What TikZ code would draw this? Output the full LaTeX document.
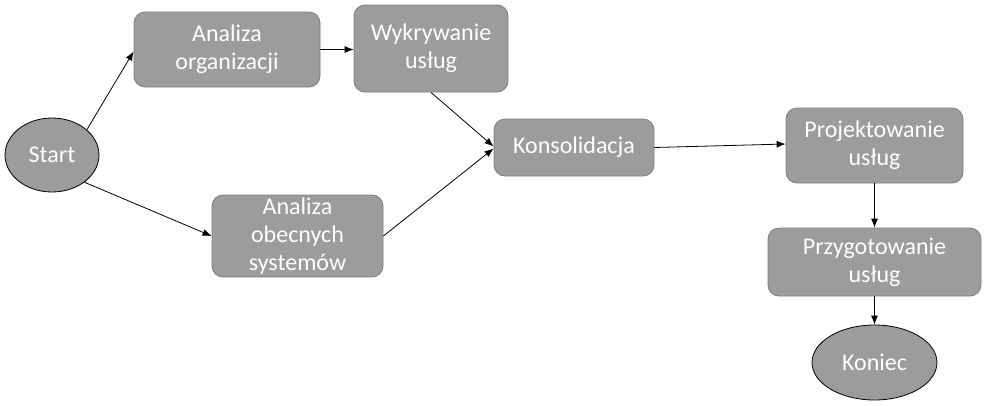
\documentclass[tikz,border=0pt]{standalone}
\usepackage{fontspec}
\setmainfont{Carlito}
\usetikzlibrary{shapes.geometric,arrows.meta}
\definecolor{boxfill}{RGB}{156,156,156}
\definecolor{boxline}{RGB}{125,125,125}
\tikzset{
  stepbox/.style={draw=boxline, line width=0.8pt, fill=boxfill, rounded corners=11pt,
    text=white, align=center, inner sep=0pt,
    font=\fontsize{24}{28}\selectfont},
  termnode/.style={draw=black, line width=0.8pt, fill=boxfill, ellipse, inner sep=0pt,
    text=white, align=center, font=\fontsize{24}{28}\selectfont},
  conn/.style={draw=black, line width=0.8pt, -{Latex[length=9pt,width=7pt]}}
}
\begin{document}
\begin{tikzpicture}[x=1pt,y=-1pt]
\useasboundingbox (0,0) rectangle (987,405);
\node[termnode, minimum width=94pt, minimum height=74pt] (start) at (52,155) {Start};
\node[stepbox, minimum width=186pt, minimum height=75pt] (ao) at (227,49.5) {Analiza\\organizacji};
\node[stepbox, minimum width=154pt, minimum height=87pt] (wu) at (431,48.5) {Wykrywanie\\usług};
\node[stepbox, minimum width=160pt, minimum height=57pt] (ko) at (574,147.5) {Konsolidacja};
\node[stepbox, minimum width=171pt, minimum height=82pt] (aos) at (297.5,236) {Analiza\\obecnych\\systemów};
\node[stepbox, minimum width=177pt, minimum height=75pt] (pu) at (874.5,145.5) {Projektowanie\\usług};
\node[stepbox, minimum width=213pt, minimum height=68pt] (pz) at (874.5,262) {Przygotowanie\\usług};
\node[termnode, minimum width=125pt, minimum height=75pt] (kn) at (874.5,362.5) {Koniec};

\draw[conn] (start.36) -- ([yshift=-2pt]ao.west);
\draw[conn] (start.-40) -- (aos.west);
\draw[conn] (ao.east) -- (ao.east -| wu.west);
\draw[conn] (wu.south) -- ([yshift=1pt]ko.west);
\draw[conn] (aos.east) -- ([yshift=-1pt]ko.west);
\draw[conn] (ko.east) -- ([yshift=1.5pt]pu.west);
\draw[conn] (pu.south) -- (pz.north);
\draw[conn] (pz.south) -- (kn.north);
\end{tikzpicture}
\end{document}
